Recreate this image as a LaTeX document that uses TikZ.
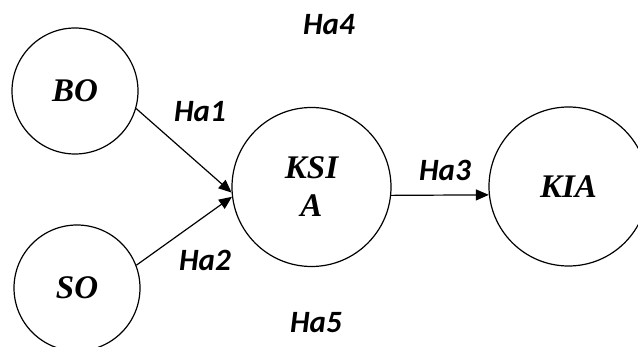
\documentclass[tikz,border=0pt]{standalone}
\usepackage{fontspec}
\setmainfont{Liberation Serif}
\newfontfamily\hafont{Carlito}
\usetikzlibrary{arrows.meta}
\tikzset{
  var/.style={circle, draw=black, line width=1.2pt, inner sep=0pt,
    font=\fontsize{33}{38}\selectfont\bfseries\itshape, align=center},
  small/.style={var, minimum size=126pt},
  big/.style={var, minimum size=159pt},
  hlab/.style={font=\hafont\fontsize{31}{34}\selectfont\bfseries\itshape, inner sep=0pt},
  link/.style={line width=1.2pt, -{Triangle[length=13pt,width=11pt]}}
}
\begin{document}
\begin{tikzpicture}[x=1pt,y=-1pt]
\useasboundingbox (0,0) rectangle (638,347);
\clip (0,0) rectangle (638,347);
\fill[white] (0,0) rectangle (638,347);
\node[small] (BO) at (75,91) {BO};
\node[small] (SO) at (77,288) {SO};
\node[big] (KSIA) at (311.5,187) {KSI\\A};
\node[big] (KIA) at (568.5,186.5) {KIA};
\draw[link] (BO.-16) -- (KSIA.184);
\draw[link] (SO.21) -- (KSIA.187);
\draw[link] (KSIA.-6) -- (KIA.186);
\node[hlab] (h1) at (200,112) {Ha1};
\node[hlab] (h2) at (205,260) {Ha2};
\node[hlab] (h3) at (445,170) {Ha3};
\node[hlab] (h4) at (329,25) {Ha4};
\node[hlab] (h5) at (316,323) {Ha5};
\end{tikzpicture}
\end{document}
